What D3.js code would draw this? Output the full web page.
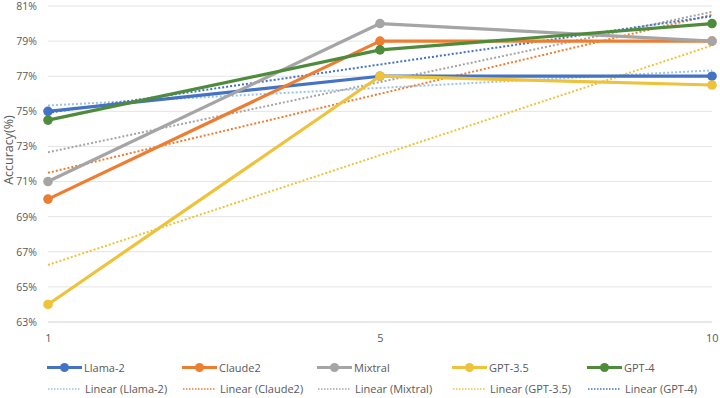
<!DOCTYPE html>
<html>
<head>
<meta charset="utf-8">
<script src="https://cdn.jsdelivr.net/npm/d3@7"></script>
<style>
  body { margin: 0; background: #fff; }
  text { font-family: "Open Sans", "Noto Sans", sans-serif; fill: #595959; }
</style>
</head>
<body>
<svg id="chart" width="720" height="398"></svg>
<script>
// Données
const categories = ["1", "5", "10"];
const yTicks = [63, 65, 67, 69, 71, 73, 75, 77, 79, 81];

const llama2 = [75, 77, 77];
const claude2 = [70, 79, 79];
const mixtral = [71, 80, 79];
const gpt35 = [64, 77, 76.5];
const gpt4 = [74.5, 78.5, 80];

const series = [
  { name: "Llama-2", values: llama2, color: "#4472C4", trendColor: "#9DC3E6" },
  { name: "Claude2", values: claude2, color: "#ED7D31", trendColor: "#ED7D31" },
  { name: "Mixtral", values: mixtral, color: "#A5A5A5", trendColor: "#A5A5A5" },
  { name: "GPT-3.5", values: gpt35, color: "#EEC23A", trendColor: "#EEC23A" },
  { name: "GPT-4", values: gpt4, color: "#4E8B3B", trendColor: "#4472C4" },
];

const svg = d3.select("#chart");
const margin = { left: 48, right: 8, top: 6, bottom: 76 };
const W = 720, H = 398;

const x = d3.scalePoint().domain(categories).range([margin.left, W - margin.right]);
const y = d3.scaleLinear().domain([63, 81]).range([H - margin.bottom, margin.top]);

// Grille
svg.append("g")
  .selectAll("line")
  .data(yTicks)
  .enter()
  .append("line")
  .attr("x1", margin.left)
  .attr("x2", W - margin.right)
  .attr("y1", (d) => y(d))
  .attr("y2", (d) => y(d))
  .attr("stroke", (d) => (d === 63 ? "#d0d0d0" : "#e4e4e4"))
  .attr("stroke-width", 1);

// Axe Y
const yAxis = svg.append("g")
  .attr("transform", `translate(${margin.left - 8},0)`)
  .call(d3.axisLeft(y).tickValues(yTicks).tickFormat((d) => d + "%").tickSize(0));
yAxis.select(".domain").remove();
yAxis.selectAll("text").attr("font-size", 10.5).attr("fill", "#595959")
  .style("font-family", '"Open Sans", sans-serif');

// Axe X
const xAxis = svg.append("g")
  .attr("transform", `translate(0,${H - margin.bottom + 9})`)
  .call(d3.axisBottom(x).tickSize(0));
xAxis.select(".domain").remove();
xAxis.selectAll("text").attr("font-size", 11).attr("fill", "#595959")
  .style("font-family", '"Open Sans", sans-serif')
  .attr("text-anchor", (d, i) => (i === categories.length - 1 ? "end" : "middle"))
  .attr("dx", (d, i) => (i === categories.length - 1 ? 6 : 0));

// Titre axe Y
svg.append("text")
  .attr("transform", "translate(13,150) rotate(-90)")
  .attr("text-anchor", "middle")
  .attr("font-size", 12.5)
  .text("Accuracy(%)");

// Droite de tendance (moindres carrés sur l'index des catégories)
function trend(values) {
  const n = values.length;
  const xs = values.map((v, i) => i + 1);
  const mx = d3.mean(xs), my = d3.mean(values);
  const slope = d3.sum(xs, (xi, i) => (xi - mx) * (values[i] - my)) / d3.sum(xs, (xi) => (xi - mx) ** 2);
  const b = my - slope * mx;
  return [b + slope * 1, b + slope * n];
}

const line = d3.line()
  .x((d, i) => x(categories[i]))
  .y((d) => y(d));

// Lignes de tendance
series.forEach((s) => {
  const t = trend(s.values);
  svg.append("line")
    .attr("x1", x(categories[0]))
    .attr("x2", x(categories[categories.length - 1]))
    .attr("y1", y(t[0]))
    .attr("y2", y(t[1]))
    .attr("stroke", s.trendColor)
    .attr("stroke-width", 2)
    .attr("stroke-dasharray", "2,2");
});

// Séries
series.forEach((s) => {
  svg.append("path")
    .datum(s.values)
    .attr("d", line)
    .attr("fill", "none")
    .attr("stroke", s.color)
    .attr("stroke-width", 3.2)
    .attr("stroke-linejoin", "round");
  svg.append("g")
    .selectAll("circle")
    .data(s.values)
    .enter()
    .append("circle")
    .attr("cx", (d, i) => x(categories[i]))
    .attr("cy", (d) => y(d))
    .attr("r", 4.8)
    .attr("fill", s.color);
});

// Légende
const legend = svg.append("g");
series.forEach((s, i) => {
  const lx = 47 + i * 135;
  const g1 = legend.append("g").attr("transform", `translate(${lx},367.5)`);
  g1.append("line").attr("x1", 0).attr("x2", 35).attr("stroke", s.color).attr("stroke-width", 3.2);
  g1.append("circle").attr("cx", 17.5).attr("r", 4.5).attr("fill", s.color);
  g1.append("text").attr("x", 37).attr("y", 4).attr("font-size", 11).text(s.name);

  const g2 = legend.append("g").attr("transform", `translate(${lx},389)`);
  g2.append("line").attr("x1", 1).attr("x2", 34).attr("stroke", s.trendColor)
    .attr("stroke-width", 1.5).attr("stroke-dasharray", "1.5,1.5");
  g2.append("text").attr("x", 38).attr("y", 4).attr("font-size", 11).text(`Linear (${s.name})`);
});
</script>
</body>
</html>
